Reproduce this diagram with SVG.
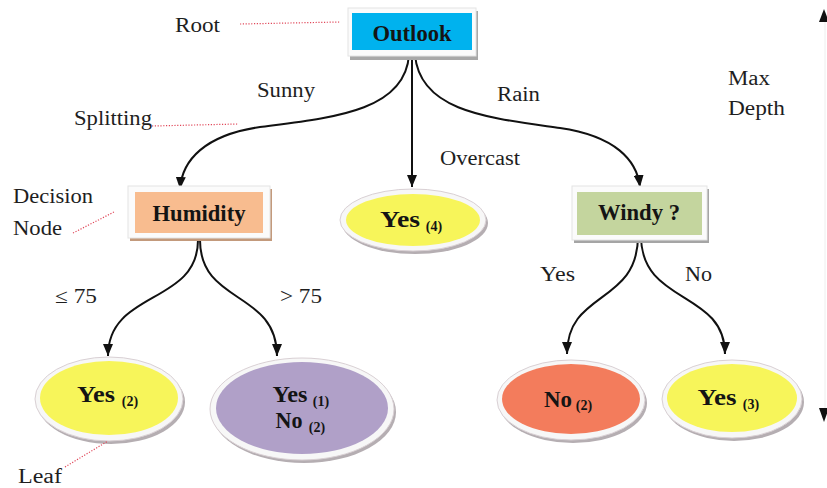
<svg xmlns="http://www.w3.org/2000/svg" width="827" height="488" viewBox="0 0 827 488">
<defs>
<style>
.lbl{font-family:"Liberation Serif","Times New Roman",serif;font-size:20px;fill:#1e1e1e}
.nl{font-family:"Liberation Serif","Times New Roman",serif;font-weight:bold;font-size:24px;fill:#141414}
.sub{font-family:"Liberation Serif","Times New Roman",serif;font-weight:bold;font-size:14px;fill:#141414}
.dot{stroke:#e0485a;stroke-width:1.2;stroke-dasharray:1.2 1.6;fill:none}
.con{stroke:#111;stroke-width:2;fill:none}
.frame{fill:#fbfbfb;stroke:#e4e4e4;stroke-width:1}
.rim{fill:#f7f7f7;stroke:#d9d0d4;stroke-width:1}
</style>
<marker id="ah" viewBox="0 0 12 10" refX="12" refY="5" markerWidth="12" markerHeight="10" markerUnits="userSpaceOnUse" orient="auto">
<path d="M0,0 L12,5 L0,10 z" fill="#111"/>
</marker>
</defs>
<rect width="827" height="488" fill="#ffffff"/>

<g id="connectors">
<path class="con" d="M409,55 C405,112 330,118 260,127 C205,135 182,160 180,189" marker-end="url(#ah)"/>
<path class="con" d="M412,55 L412,187" marker-end="url(#ah)"/>
<path class="con" d="M415,55 C420,112 490,118 560,128 C615,136 637,160 640,187" marker-end="url(#ah)"/>
<path class="con" d="M198,240 C198,305 108,290 108,356" marker-end="url(#ah)"/>
<path class="con" d="M200,240 C200,305 277,290 277,356" marker-end="url(#ah)"/>
<path class="con" d="M638,236 C638,305 567,290 567,354" marker-end="url(#ah)"/>
<path class="con" d="M641,236 C641,305 725,290 725,354" marker-end="url(#ah)"/>
</g>

<g id="outlook">
<rect x="350" y="11" width="128" height="49" fill="#a8a8a8"/>
<rect class="frame" x="348" y="8" width="128" height="48"/>
<rect x="352" y="13" width="120" height="37" fill="#00b2ee"/>
<text class="nl" x="412" y="41" text-anchor="middle" font-size="22" textLength="79" lengthAdjust="spacingAndGlyphs">Outlook</text>
</g>

<g id="humidity">
<rect x="130" y="189" width="142" height="52" fill="#c39a7c"/>
<rect class="frame" x="128" y="186" width="142" height="52"/>
<rect x="135" y="192" width="128" height="41" fill="#f8bc8f"/>
<text class="nl" x="199" y="221" text-anchor="middle" font-size="21" textLength="93" lengthAdjust="spacingAndGlyphs">Humidity</text>
</g>

<g id="windy">
<rect x="574" y="189" width="135" height="54" fill="#a5a5a5"/>
<rect class="frame" x="572" y="186" width="135" height="54"/>
<rect x="577" y="192" width="125" height="43" fill="#c4d59e"/>
<text class="nl" x="639" y="220" text-anchor="middle" font-size="21" textLength="82" lengthAdjust="spacingAndGlyphs">Windy ?</text>
</g>

<g id="yes4">
<ellipse cx="415" cy="223" rx="73" ry="31" fill="#b5aeb2"/>
<ellipse class="rim" cx="413" cy="220" rx="73" ry="31"/>
<ellipse cx="413" cy="220" rx="67" ry="26" fill="#f7f55a"/>
<text class="nl" x="400" y="227" text-anchor="middle" textLength="40" lengthAdjust="spacingAndGlyphs">Yes</text>
<text class="sub" x="434" y="231" text-anchor="middle">(4)</text>
</g>

<g id="yes2">
<ellipse cx="111" cy="402" rx="74" ry="42" fill="#b5aeb2"/>
<ellipse class="rim" cx="109" cy="399" rx="74" ry="42"/>
<ellipse cx="109" cy="398" rx="69" ry="37" fill="#f7f55a"/>
<text class="nl" x="96" y="402" text-anchor="middle" textLength="38" lengthAdjust="spacingAndGlyphs">Yes</text>
<text class="sub" x="130" y="406" text-anchor="middle">(2)</text>
</g>

<g id="mixed">
<ellipse cx="304" cy="412" rx="92" ry="51" fill="#b5aeb2"/>
<ellipse class="rim" cx="302" cy="409" rx="92" ry="51"/>
<ellipse cx="302" cy="408" rx="86" ry="46" fill="#b0a0c8"/>
<text class="nl" x="290" y="402" text-anchor="middle" textLength="35" lengthAdjust="spacingAndGlyphs">Yes</text>
<text class="sub" x="321" y="406" text-anchor="middle">(1)</text>
<text class="nl" x="289" y="428" text-anchor="middle" textLength="27" lengthAdjust="spacingAndGlyphs">No</text>
<text class="sub" x="317" y="432" text-anchor="middle">(2)</text>
</g>

<g id="no2">
<ellipse cx="573" cy="403" rx="74" ry="40" fill="#b5aeb2"/>
<ellipse class="rim" cx="571" cy="400" rx="74" ry="40"/>
<ellipse cx="571" cy="399" rx="69" ry="35" fill="#f37c5c"/>
<text class="nl" x="558" y="407" text-anchor="middle" textLength="28" lengthAdjust="spacingAndGlyphs">No</text>
<text class="sub" x="584" y="410" text-anchor="middle">(2)</text>
</g>

<g id="yes3">
<ellipse cx="734" cy="402" rx="70" ry="39" fill="#b5aeb2"/>
<ellipse class="rim" cx="732" cy="399" rx="70" ry="39"/>
<ellipse cx="732" cy="398" rx="65" ry="34" fill="#f7f55a"/>
<text class="nl" x="717" y="405" text-anchor="middle" textLength="39" lengthAdjust="spacingAndGlyphs">Yes</text>
<text class="sub" x="751" y="409" text-anchor="middle">(3)</text>
</g>

<g id="labels">
<text class="lbl" x="175" y="32" textLength="45" lengthAdjust="spacingAndGlyphs">Root</text>
<path class="dot" d="M240,24 L340,22"/>
<text class="lbl" x="257" y="97" textLength="58" lengthAdjust="spacingAndGlyphs">Sunny</text>
<text class="lbl" x="497" y="101" textLength="43" lengthAdjust="spacingAndGlyphs">Rain</text>
<text class="lbl" x="440" y="165" textLength="80" lengthAdjust="spacingAndGlyphs">Overcast</text>
<text class="lbl" x="74" y="125" textLength="78" lengthAdjust="spacingAndGlyphs">Splitting</text>
<path class="dot" d="M152,126 L238,124"/>
<text class="lbl" x="728" y="85" textLength="42" lengthAdjust="spacingAndGlyphs">Max</text>
<text class="lbl" x="728" y="115" textLength="57" lengthAdjust="spacingAndGlyphs">Depth</text>
<text class="lbl" x="13" y="203" textLength="80" lengthAdjust="spacingAndGlyphs">Decision</text>
<text class="lbl" x="13" y="235" textLength="49" lengthAdjust="spacingAndGlyphs">Node</text>
<path class="dot" d="M73,233 L114,212"/>
<text class="lbl" x="55" y="303" textLength="42" lengthAdjust="spacingAndGlyphs">≤ 75</text>
<text class="lbl" x="280" y="303" textLength="42" lengthAdjust="spacingAndGlyphs">&gt; 75</text>
<text class="lbl" x="540" y="281" textLength="35" lengthAdjust="spacingAndGlyphs">Yes</text>
<text class="lbl" x="685" y="281" textLength="27" lengthAdjust="spacingAndGlyphs">No</text>
<text class="lbl" x="18" y="483" textLength="44" lengthAdjust="spacingAndGlyphs">Leaf</text>
<path class="dot" d="M65,467 L108,441"/>
</g>

<g id="depth-arrow">
<line x1="825" y1="22" x2="825" y2="408" stroke="#eeeeee" stroke-width="1"/>
<path d="M819,22 L824,9 L829,22 z" fill="#111"/>
<path d="M819,408 L824,422 L829,408 z" fill="#111"/>
</g>
</svg>
